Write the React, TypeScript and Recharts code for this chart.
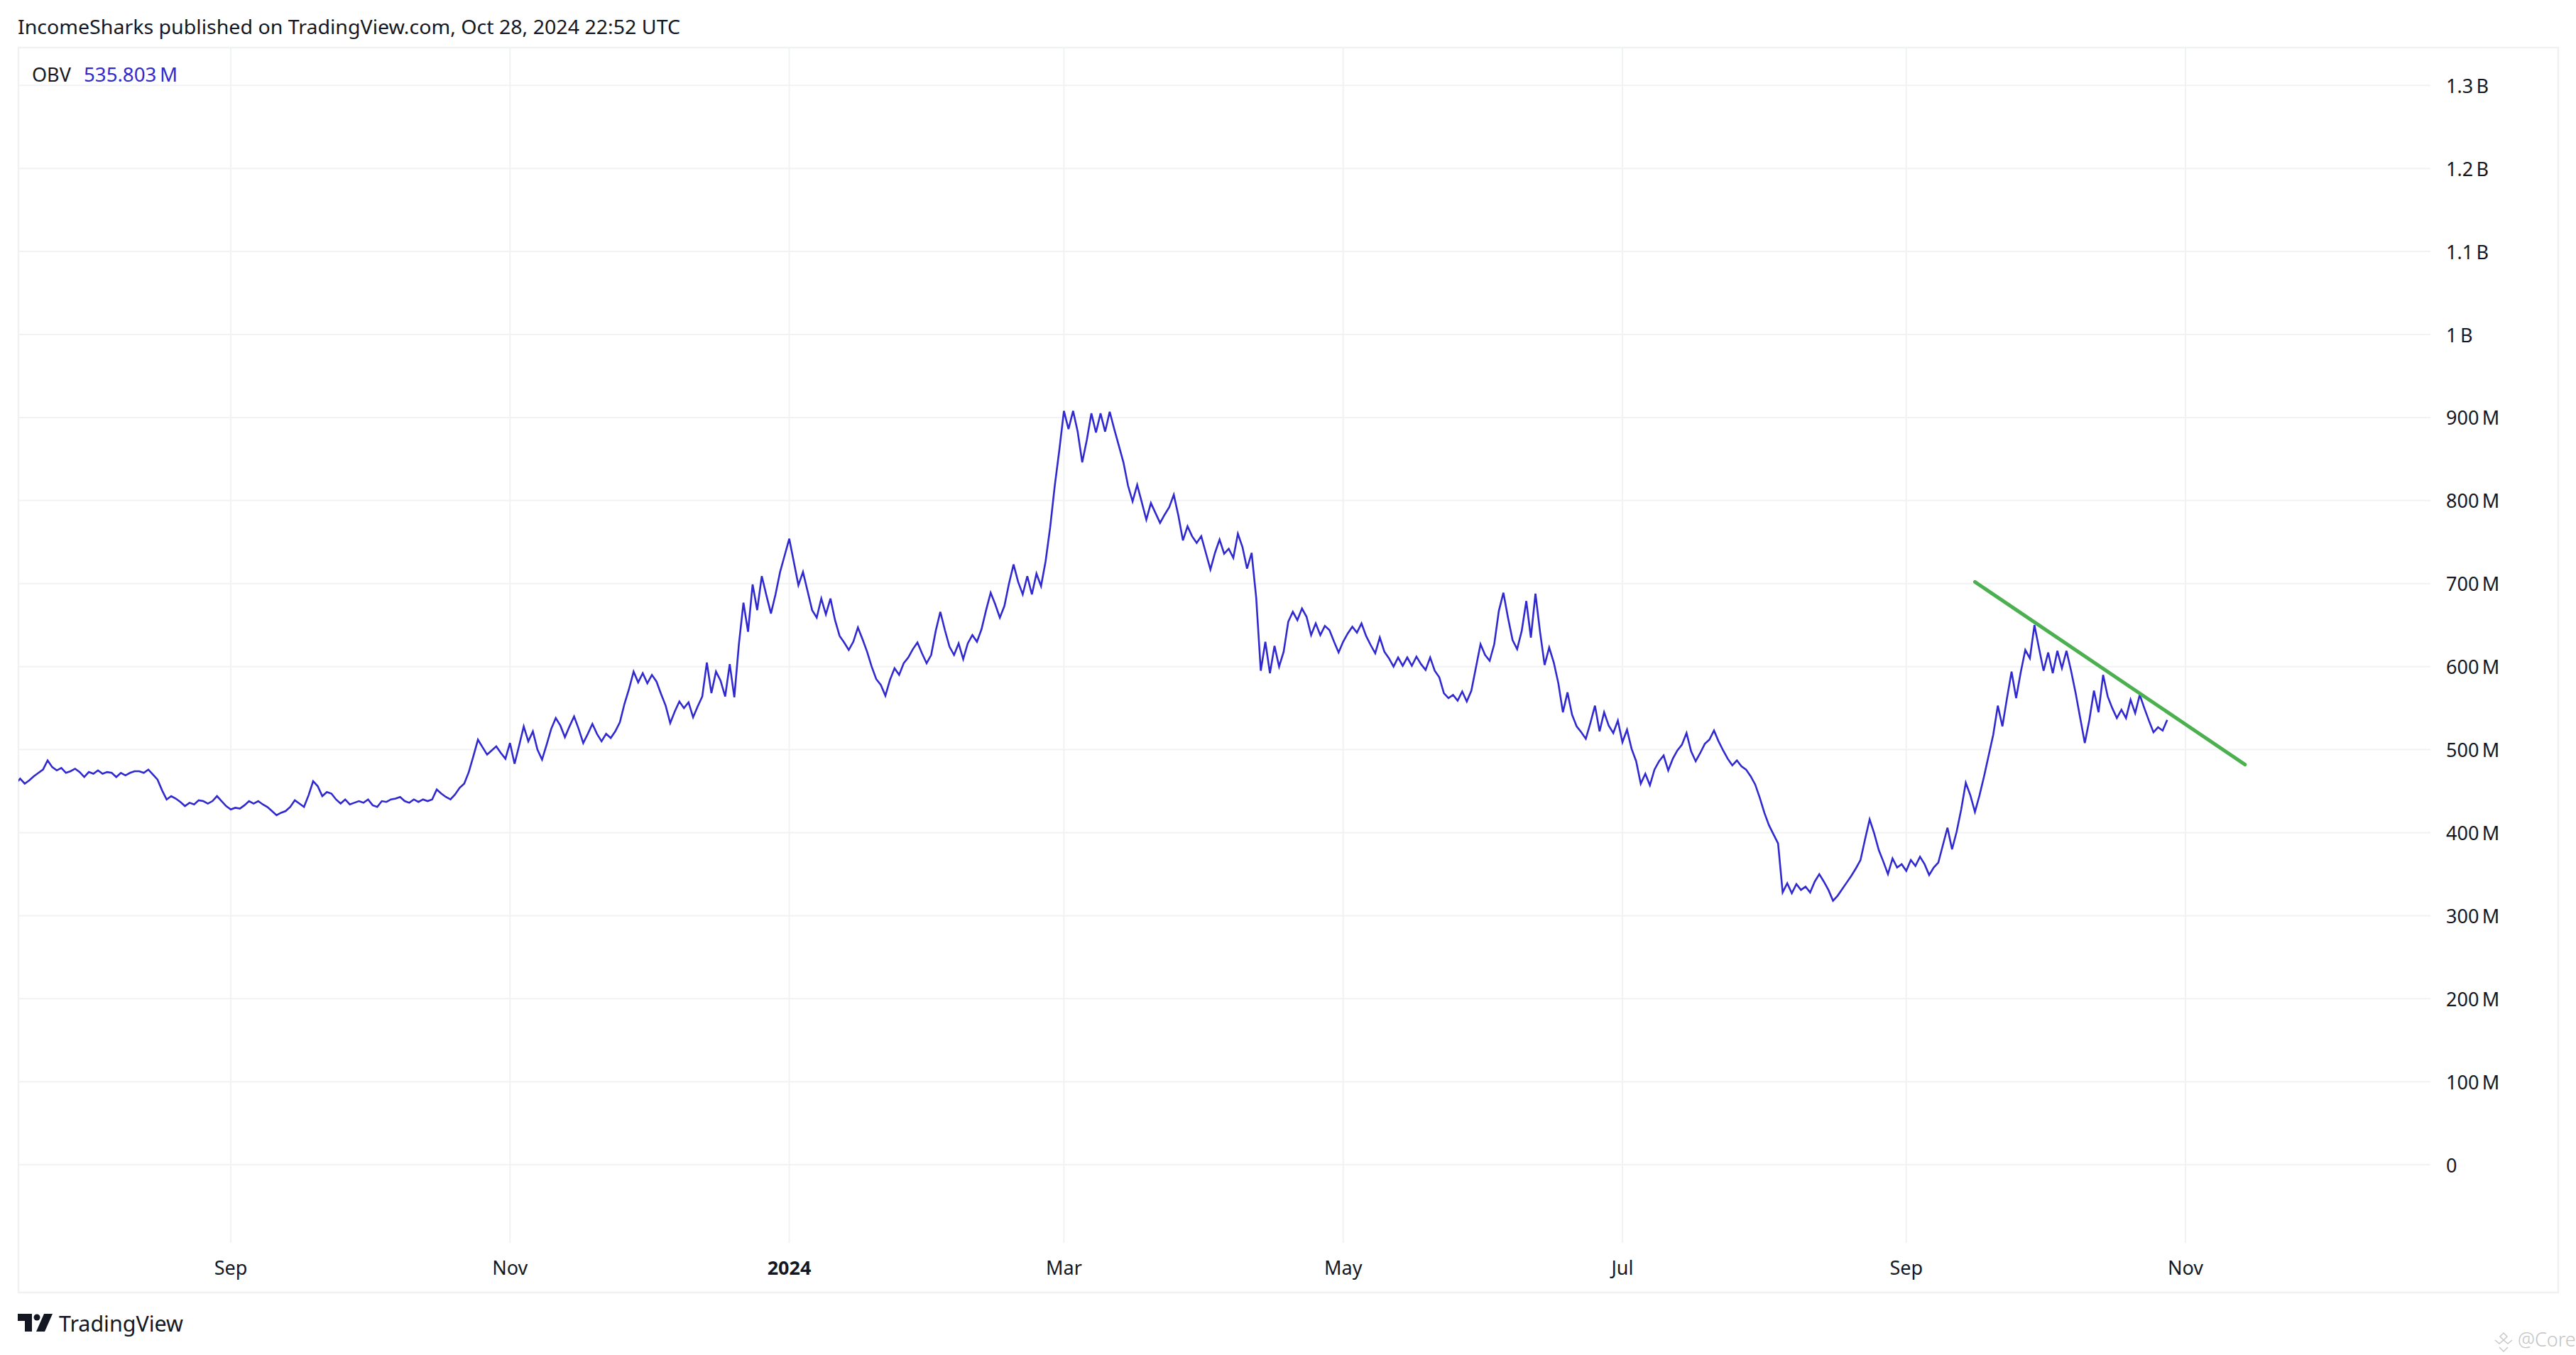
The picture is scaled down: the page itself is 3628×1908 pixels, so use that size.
import { CartesianGrid, Line, LineChart, XAxis, YAxis } from 'recharts';

// OBV daily values in millions. Day 0 is 1 Sep 2023.
const FIRST_DAY = -47;
const obvJulAug23 = [
  459, 465, 459, 463, 468, 472, 476, 487, 479, 475, 478, 472, 474, 477, 473, 467, 473, 471, 475, 471, 473, 472, 467, 472,
  469, 472, 474, 474, 472, 476, 470, 464, 451, 440, 444, 441, 437, 432, 436, 434, 439, 438, 435, 438, 444, 438, 432,
];
const obvSepOct23 = [
  428, 430, 429, 433, 438, 435, 438, 434, 431, 426, 421, 424, 426, 431, 439, 435, 431, 445, 462, 456, 444, 449, 447, 440,
  435, 440, 434, 436, 438, 436, 440, 433, 431, 438, 437, 440, 441, 443, 438, 436, 440, 437, 440, 438, 440, 452, 447, 443,
  440, 446, 454, 459, 473, 492, 512, 503, 494, 499, 504, 496, 489,
];
const obvNovDec23 = [
  508, 483, 505, 528, 510, 522, 500, 488, 506, 525, 538, 529, 515, 528, 540, 525, 508, 519, 531, 519, 510, 519, 514, 522,
  533, 555, 573, 594, 581, 592, 580, 590, 582, 567, 553, 532, 546, 558, 550, 557, 539, 552, 564, 605, 568, 594, 583, 564,
  603, 563, 627, 677, 642, 699, 668, 709, 686, 664, 687, 714, 734,
];
const obvJanFeb24 = [
  754, 726, 698, 714, 691, 668, 659, 682, 663, 682, 656, 637, 629, 620, 630, 647, 633, 618, 600, 585, 578, 565, 584, 598,
  590, 604, 611, 621, 629, 616, 604, 614, 643, 666, 644, 624, 614, 628, 609, 628, 638, 630, 645, 668, 689, 675, 659, 673,
  700, 723, 702, 687, 709, 687, 712, 697, 727, 768, 818, 861,
];
const obvMarApr24 = [
  908, 886, 908, 883, 846, 873, 905, 882, 905, 883, 907, 886, 866, 846, 818, 799, 819, 798, 777, 797, 785, 773, 783, 792,
  807, 782, 752, 769, 757, 749, 757, 737, 717, 737, 753, 736, 742, 731, 760, 744, 718, 737, 683, 595, 630, 592, 625, 600,
  618, 654, 666, 656, 670, 660, 638, 652, 638, 649, 644, 630, 617,
];
const obvMayJun24 = [
  630, 640, 648, 641, 652, 637, 626, 616, 635, 618, 610, 600, 611, 601, 611, 601, 612, 603, 596, 611, 595, 587, 568, 562,
  566, 559, 570, 558, 571, 599, 627, 614, 607, 627, 667, 689, 659, 632, 621, 643, 679, 635, 688, 642, 602, 623, 605, 580,
  545, 569, 542, 528, 521, 513, 532, 553, 522, 545, 529, 520, 535,
];
const obvJulAug24 = [
  509, 524, 501, 486, 459, 471, 457, 476, 486, 493, 475, 489, 499, 506, 520, 498, 486, 496, 507, 512, 523, 510, 499, 489,
  481, 487, 480, 476, 468, 458, 442, 424, 409, 398, 387, 328, 339, 327, 338, 331, 335, 328, 341, 350, 341, 331, 318, 324,
  332, 340, 348, 357, 367, 392, 416, 399, 379, 365, 350, 369, 358, 362,
];
const obvSepOct24 = [
  354, 367, 360, 371, 362, 349, 358, 364, 385, 406, 380, 401, 428, 460, 445, 425, 445, 468, 493, 518, 553, 528, 562, 594,
  562, 593, 620, 610, 650, 622, 595, 617, 592, 619, 598, 619, 595, 568, 538, 508, 536, 571, 545, 590, 564, 550, 538, 548,
  538, 560, 544, 566, 550, 535, 521, 527, 523, 535.8,
];

const trendDays = [381, 440];
const trendValues = [702, 482];

const monthDays = [0, 61, 122, 182, 243, 304, 366, 427];
const monthLabels = ['Sep', 'Nov', '2024', 'Mar', 'May', 'Jul', 'Sep', 'Nov'];
const valueTicks = [0, 100, 200, 300, 400, 500, 600, 700, 800, 900, 1000, 1100, 1200, 1300];

const rows = [
  ...obvJulAug23,
  ...obvSepOct23,
  ...obvNovDec23,
  ...obvJanFeb24,
  ...obvMarApr24,
  ...obvMayJun24,
  ...obvJulAug24,
  ...obvSepOct24,
].map((obv, i) => ({ day: FIRST_DAY + i, obv }));
const trendRows = trendDays.map((day, i) => ({ day, trend: trendValues[i] }));

const FONT = '"Noto Sans", sans-serif';
const INK = '#131722';
const BLUE = '#3029d0';

const formatValue = (v: number) => (v === 0 ? '0' : v >= 1000 ? `${v / 1000}\u2009B` : `${v}\u2009M`);

function MonthTick({ x, payload }: any) {
  const label = monthLabels[monthDays.indexOf(payload.value)];
  return (
    <text x={x} y={1795} textAnchor="middle" fontFamily={FONT} fontSize={27} fill={INK} fontWeight={label === '2024' ? 700 : 400}>
      {label}
    </text>
  );
}

function ValueTick({ x, y, payload }: any) {
  return (
    <text x={x} y={y + 10.5} fontFamily={FONT} fontSize={27} fill={INK}>
      {formatValue(payload.value)}
    </text>
  );
}

export default function App() {
  return (
    <div style={{ position: 'absolute', left: 0, top: 0, width: 3628, height: 1908, background: '#fff' }}>
      <svg width={3628} height={1908} style={{ position: 'absolute', left: 0, top: 0 }}>
        <rect x={26} y={67} width={3577} height={1753} fill="none" stroke="#f0f1f3" strokeWidth={2.5} />
        <text x={25} y={48} fontFamily={FONT} fontSize={27.5} fill={INK} textLength={933} lengthAdjust="spacingAndGlyphs">
          IncomeSharks published on TradingView.com, Oct 28, 2024 22:52 UTC
        </text>
        <text x={45} y={115} fontFamily={FONT} fontSize={27} fill={INK}>OBV</text>
        <text x={118} y={115} fontFamily={FONT} fontSize={27} fill={BLUE} textLength={132} lengthAdjust="spacingAndGlyphs">
          {'535.803\u2009M'}
        </text>
        <path d="M25 1850H45V1875H35V1860H25Z M62 1850H74L63 1875H51Z" fill={INK} />
        <circle cx={52} cy={1855} r={4.5} fill={INK} />
        <text x={83} y={1875} fontFamily={FONT} fontSize={31} fill={INK} textLength={175} lengthAdjust="spacingAndGlyphs">
          TradingView
        </text>
        <path d="M3514 1887l6 5 6-5 6 5 6-5 M3520 1897l6 6 6-6 M3526 1877l5 5-5 5-5-5z" fill="none" stroke="#c8c8c8" strokeWidth={1.5} />
        <text x={3546} y={1896} fontFamily={FONT} fontSize={27} fontWeight={300} fill="#c4c4c4">@Core</text>
      </svg>
      <LineChart
        width={3628}
        height={1908}
        data={rows}
        margin={{ top: 67, right: 0, bottom: 0, left: 26 }}
        style={{ position: 'absolute', left: 0, top: 0 }}
      >
        <CartesianGrid stroke="#f1f2f4" strokeWidth={2} syncWithTicks horizontalValues={valueTicks} verticalValues={monthDays} />
        <XAxis
          dataKey="day"
          type="number"
          domain={[-46.37, 480.5]}
          ticks={monthDays}
          interval={0}
          allowDataOverflow
          height={158}
          axisLine={false}
          tickLine={false}
          tick={MonthTick}
        />
        <YAxis
          orientation="right"
          type="number"
          domain={[-94, 1345.6]}
          ticks={valueTicks}
          interval={0}
          allowDataOverflow
          width={205}
          axisLine={false}
          tickLine={false}
          tickMargin={16}
          tick={ValueTick}
        />
        <Line dataKey="obv" stroke={BLUE} strokeWidth={2.6} dot={false} isAnimationActive={false} strokeLinejoin="miter" />
        <Line
          data={trendRows}
          dataKey="trend"
          stroke="#4caf50"
          strokeWidth={5}
          strokeLinecap="round"
          dot={false}
          isAnimationActive={false}
        />
      </LineChart>
    </div>
  );
}
